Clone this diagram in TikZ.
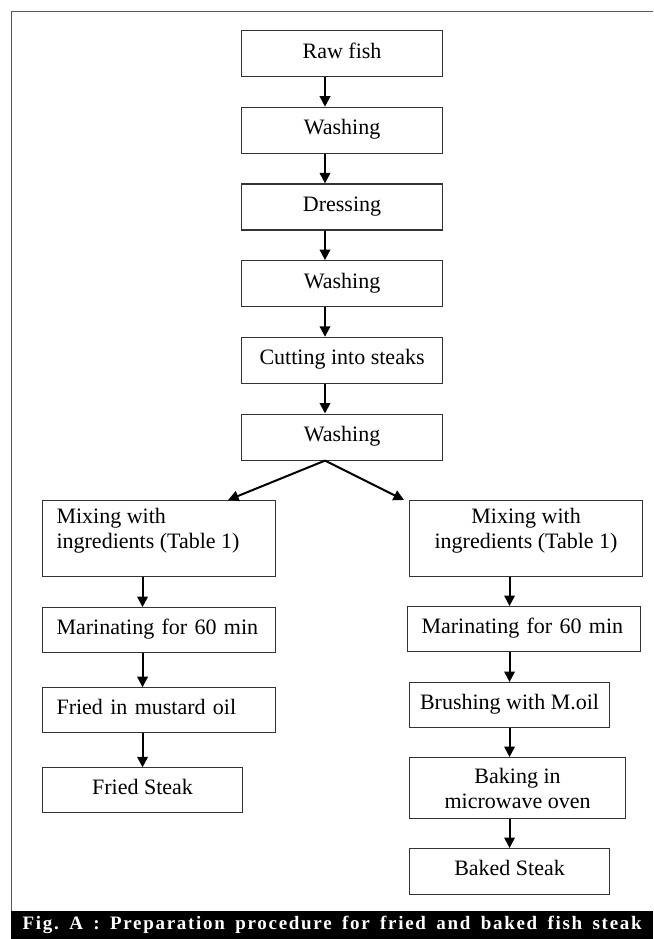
\documentclass[tikz,border=0pt]{standalone}
\usepackage{fontspec}
\setmainfont{Liberation Serif}
\newfontfamily\capfont[LetterSpace=9]{Liberation Serif}
\usetikzlibrary{positioning, arrows.meta}

\begin{document}
\begin{tikzpicture}[x=1pt, y=-1pt, node distance={30pt},
    stage/.style = {draw=black!80, line width=1.1pt, minimum height=46pt, inner sep=0pt, text depth=6.4pt, font=\fontsize{22}{25}\selectfont},
    leftstage/.style = {stage, text width=205pt, align=left, inner xsep=14pt},
    mixstage/.style = {stage, text depth={}, minimum width=233pt, minimum height=76pt, inner xsep=14pt, inner ysep=8pt},
    flow/.style = {-{Triangle[length=10.5pt, width=10.5pt]}, line width=2pt},
    frame/.style = {draw=black!65, line width=1pt}]
    \useasboundingbox (0,0) rectangle (653,939);
    \coordinate (spine) at (325,0);
    % main line
    \node[stage, minimum width=201pt, anchor=north west] (raw) at (241,30) {Raw fish};
    \node[stage, minimum width=201pt, below=29.6pt of raw] (wash1) {Washing};
    \node[stage, minimum width=201pt, below=29.6pt of wash1] (dress) {Dressing};
    \node[stage, minimum width=201pt, below=29.6pt of dress] (wash2) {Washing};
    \node[stage, minimum width=201pt, below=29.6pt of wash2] (cut) {Cutting into steaks};
    \node[stage, minimum width=201pt, below=29.6pt of cut] (wash3) {Washing};
    % fried
    \node[mixstage, anchor=north west] (mixL) at (42,500) {\parbox[t][60pt][t]{205pt}{Mixing with\\ingredients (Table 1)}};
    \node[leftstage, minimum height=45pt, below=30pt of mixL.south west, anchor=north west] (marL) {Marinating for 60 min};
    \node[leftstage, minimum height=45pt, below=34pt of marL.south west, anchor=north west] (fryL) {Fried in mustard oil};
    \node[stage, minimum width=200pt, minimum height=45pt, below=34pt of fryL.south west, anchor=north west] (friedL) {Fried Steak};
    % baked
    \node[mixstage, anchor=north west] (mixR) at (409,500) {\parbox[t][60pt][t]{205pt}{\centering Mixing with\\ingredients (Table 1)}};
    \node[leftstage, minimum height=45pt, anchor=north west] (marR) at (407,606) {Marinating for 60 min};
    \node[stage, minimum width=200pt, minimum height=45pt, anchor=north west] (brush) at (409,682) {Brushing with M.oil};
    \node[stage, minimum width=216pt, minimum height=61pt, align=center, text depth={}, anchor=north west] (bake) at (409,757) {Baking in\\microwave oven};
    \node[stage, minimum width=200pt, minimum height=46pt, anchor=north west] (bakedR) at (409,848) {Baked Steak};
    % arrows
    \foreach \a/\b in {raw/wash1, wash1/dress, dress/wash2, wash2/cut, cut/wash3}
        \draw[flow] (\a.south -| spine) -- (\b.north -| spine);
    \draw[flow] (wash3.south -| spine) -- ([xshift=-48pt]mixL.north east);
    \draw[flow] (wash3.south -| spine) -- ([xshift=-5pt]mixR.north west);
    \foreach \a/\b in {mixL/marL, marL/fryL, fryL/friedL}
        \draw[flow] (\a.south -| friedL) -- (\b.north -| friedL);
    \foreach \a/\b in {mixR/marR, marR/brush, brush/bake, bake/bakedR}
        \draw[flow] (\a.south -| bakedR) -- (\b.north -| bakedR);
    % frame and caption
    \draw[frame] (11.5,911) -- (11.5,12) -- (653,12);
    \node[fill=black, text=white, minimum width=642pt, minimum height=28pt, inner sep=0pt, anchor=north west] (caption) at (11,911)
        {\capfont\fontsize{19}{22}\selectfont\bfseries\frenchspacing\makebox[619pt][s]{Fig. A : Preparation procedure for fried and baked fish steak}};
\end{tikzpicture}
\end{document}
